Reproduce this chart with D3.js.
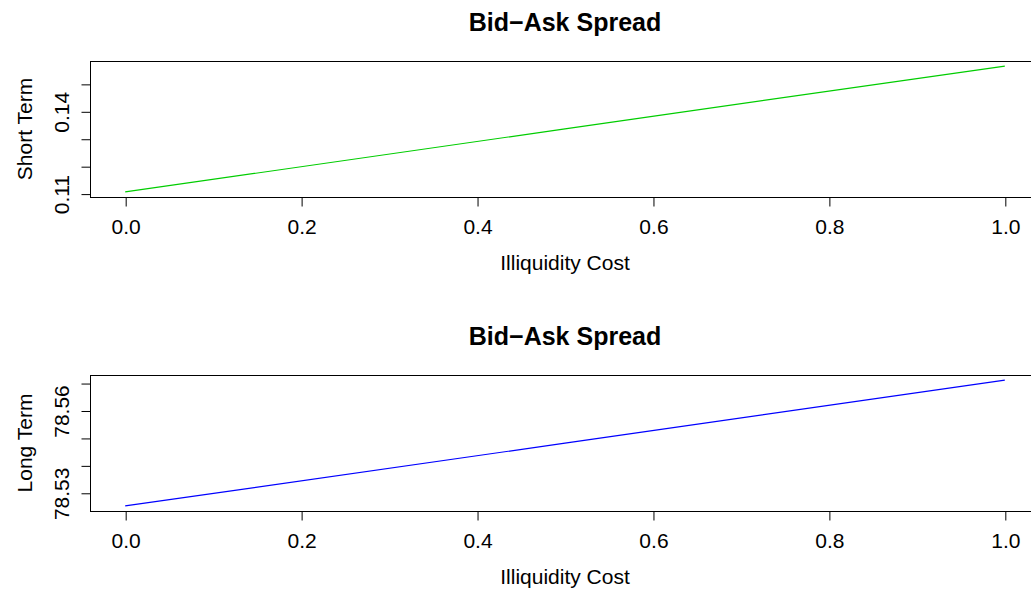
<!DOCTYPE html>
<html>
<head>
<meta charset="utf-8">
<script src="https://cdn.jsdelivr.net/npm/d3@7"></script>
<style>
  html, body { margin: 0; padding: 0; background: #fff; }
  svg { display: block; }
  text { font-family: "Liberation Sans", Arial, sans-serif; fill: #000; }
</style>
</head>
<body>
<svg id="chart" width="1031" height="591"></svg>
<script>
// Illiquidity cost on the x axis (shared by both panels)
const illiquidity = [0, 0.5, 1];
// Bid-ask spread, short-term and long-term
const shortTerm = [0.1106, 0.1336, 0.1565];
const longTerm = [78.5252, 78.5481, 78.5711];
// Axis tick values
const xTicks = [0, 0.2, 0.4, 0.6, 0.8, 1.0];
const shortTicks = [0.11, 0.12, 0.13, 0.14, 0.15];
const shortTickLabels = ["0.11", "", "", "0.14", ""];
const longTicks = [78.53, 78.54, 78.55, 78.56, 78.57];
const longTickLabels = ["78.53", "", "", "78.56", ""];

const panels = [
  { title: "Bid\u2212Ask Spread", ylab: "Short Term", values: shortTerm,
    ticks: shortTicks, tickLabels: shortTickLabels, color: "#00CD00", top: 61 },
  { title: "Bid\u2212Ask Spread", ylab: "Long Term", values: longTerm,
    ticks: longTicks, tickLabels: longTickLabels, color: "#0000FF", top: 375 }
];

const svg = d3.select("#chart");
const plotLeft = 90, plotRight = 1040, plotHeight = 136;
const axisFont = 21, titleFont = 25;

// pad a data extent by 4% on each side, as base graphics does
function padded(ext) {
  const d = (ext[1] - ext[0]) * 0.04;
  return [ext[0] - d, ext[1] + d];
}

const x = d3.scaleLinear()
  .domain(padded(d3.extent(illiquidity)))
  .range([plotLeft, plotRight]);

panels.forEach(p => {
  const top = p.top, bottom = top + plotHeight;
  const y = d3.scaleLinear()
    .domain(padded(d3.extent(p.values)))
    .range([bottom, top]);

  const g = svg.append("g");

  // data line
  g.append("path")
    .datum(illiquidity.map((v, i) => [v, p.values[i]]))
    .attr("fill", "none")
    .attr("stroke", p.color)
    .attr("stroke-width", 1.2)
    .attr("d", d3.line().x(d => x(d[0])).y(d => y(d[1])));

  // plot box
  g.append("rect")
    .attr("x", plotLeft + 0.5).attr("y", top + 0.5)
    .attr("width", plotRight - plotLeft).attr("height", plotHeight)
    .attr("fill", "none").attr("stroke", "#000").attr("stroke-width", 1);

  // x axis
  const xa = g.append("g")
    .attr("transform", `translate(0.5,${bottom + 0.5})`)
    .call(d3.axisBottom(x).tickValues(xTicks).tickFormat(d3.format(".1f"))
      .tickSize(9).tickSizeOuter(0));
  xa.select(".domain")
    .attr("d", `M${x(xTicks[0])},0H${x(xTicks[xTicks.length - 1])}`);
  xa.selectAll("text")
    .attr("font-size", axisFont)
    .attr("font-family", "Liberation Sans, Arial, sans-serif")
    .attr("dy", null).attr("y", 36);

  // y axis
  const ya = g.append("g")
    .attr("transform", `translate(${plotLeft + 0.5},0.5)`)
    .call(d3.axisLeft(y).tickValues(p.ticks)
      .tickFormat((d, i) => p.tickLabels[i]).tickSize(9).tickSizeOuter(0));
  ya.select(".domain")
    .attr("d", `M0,${y(p.ticks[0])}V${y(p.ticks[p.ticks.length - 1])}`);
  ya.selectAll(".tick text")
    .attr("font-size", axisFont)
    .attr("font-family", "Liberation Sans, Arial, sans-serif")
    .attr("x", null).attr("dy", null)
    .attr("text-anchor", "middle")
    .attr("transform", "translate(-21.5,0) rotate(-90)");

  // title
  g.append("text")
    .attr("x", (plotLeft + plotRight) / 2)
    .attr("y", top - 30)
    .attr("text-anchor", "middle")
    .attr("font-size", titleFont)
    .attr("font-weight", "bold")
    .text(p.title);

  // x label
  g.append("text")
    .attr("x", (plotLeft + plotRight) / 2)
    .attr("y", bottom + 73)
    .attr("text-anchor", "middle")
    .attr("font-size", axisFont)
    .text("Illiquidity Cost");

  // y label
  g.append("text")
    .attr("transform", `translate(32,${(top + bottom) / 2}) rotate(-90)`)
    .attr("text-anchor", "middle")
    .attr("font-size", axisFont)
    .text(p.ylab);
});
</script>
</body>
</html>
